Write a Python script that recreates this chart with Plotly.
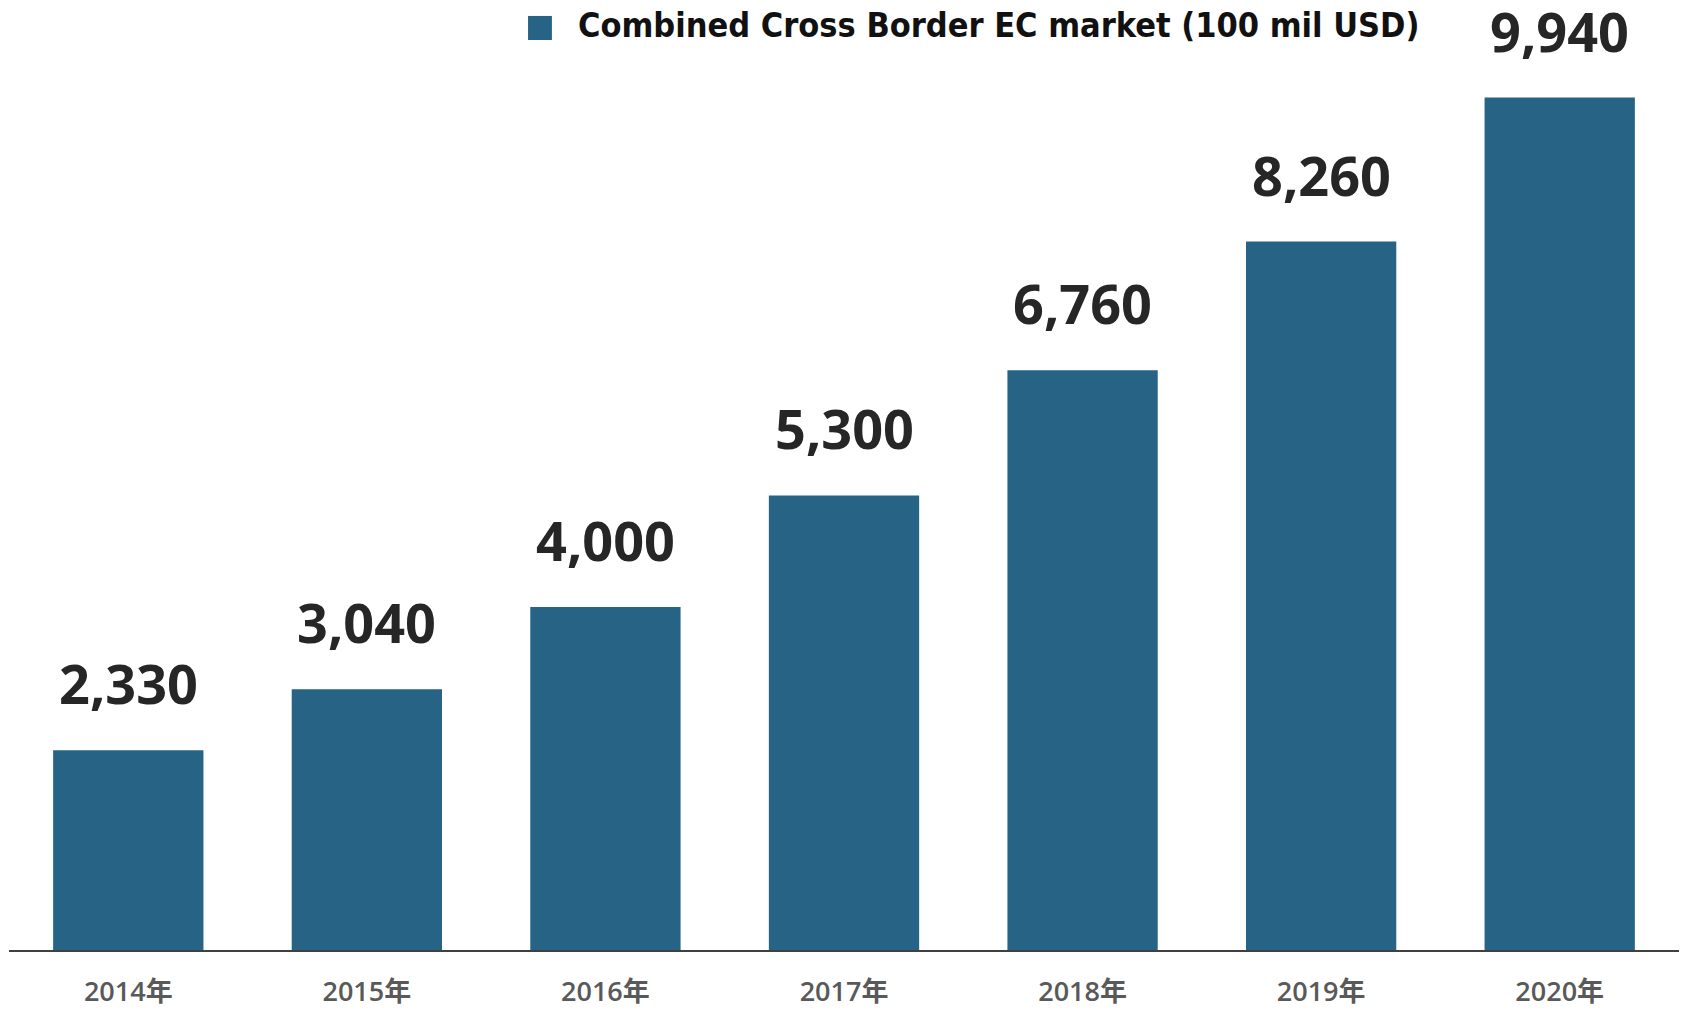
import plotly.graph_objects as go

# Annual combined cross-border EC market, in units of 100 million USD
years = ["2014年", "2015年", "2016年", "2017年", "2018年", "2019年", "2020年"]
market = [2330, 3040, 4000, 5300, 6760, 8260, 9940]
legend_label = "Combined Cross Border EC market (100 mil USD)"

BAR_COLOR = "#266384"
LABEL_COLOR = "#262626"
TICK_COLOR = "#595959"

fig = go.Figure()
fig.add_trace(go.Bar(
    x=years,
    y=market,
    marker=dict(color=BAR_COLOR, line=dict(width=0)),
    width=0.63,
    showlegend=False,
    hoverinfo="x+y",
))

# Value labels above each bar
for yr, v in zip(years, market):
    fig.add_annotation(
        x=yr, y=v, xref="x", yref="y",
        text=f"{v:,}",
        showarrow=False,
        yanchor="bottom",
        yshift=28,
        font=dict(family="Open Sans, Noto Sans CJK JP", size=54, color=LABEL_COLOR, weight="bold"),
    )

# Legend: colour swatch with caption
fig.add_shape(
    type="rect", xref="paper", yref="paper",
    x0=0.3108, x1=0.3251, y0=0.9579, y1=0.9832,
    fillcolor=BAR_COLOR, line=dict(width=0),
)
fig.add_annotation(
    x=0.3395, y=0.9737, xref="paper", yref="paper",
    xanchor="left", yanchor="middle", showarrow=False,
    text=legend_label,
    font=dict(family="DejaVu Sans Condensed, DejaVu Sans", size=34, color="#111111", weight="bold"),
)

fig.update_layout(
    width=1684, height=1010,
    margin=dict(l=9, r=5, t=0, b=60, autoexpand=False),
    paper_bgcolor="white",
    plot_bgcolor="white",
    bargap=0.37,
    xaxis=dict(
        showgrid=False,
        automargin=False,
        showline=True, linecolor="#404040", linewidth=2,
        ticks="", ticklabelstandoff=17,
        tickfont=dict(family="Open Sans, Noto Sans CJK JP", size=27, color=TICK_COLOR, weight=600),
    ),
    yaxis=dict(
        range=[0, 11077],
        visible=False,
        showgrid=False,
        zeroline=False,
        automargin=False,
    ),
)

fig.write_html("out.html")
